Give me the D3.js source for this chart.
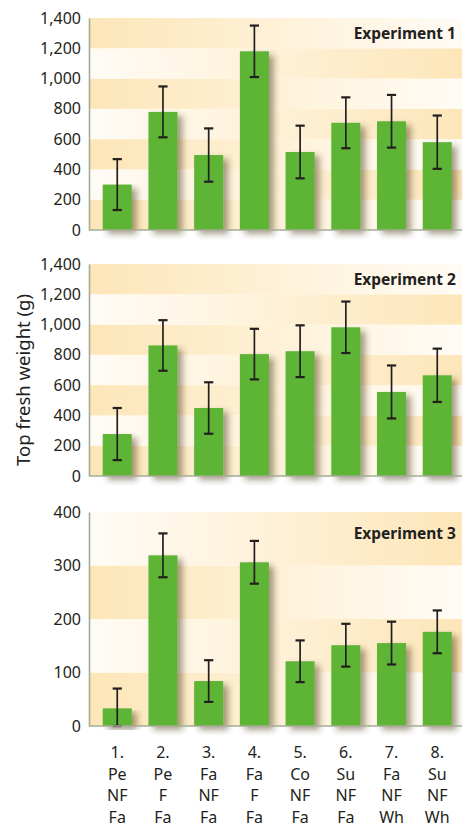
<!DOCTYPE html>
<html>
<head>
<meta charset="utf-8">
<script src="https://cdn.jsdelivr.net/npm/d3@7"></script>
<style>
    body { margin: 0; background: #fff; }
    svg { display: block; font-family: "Noto Sans", "Open Sans", sans-serif; }
</style>
</head>
<body>
<svg id="chart" width="466" height="827"></svg>
<script>
// values
const groupNumbers = ["1.", "2.", "3.", "4.", "5.", "6.", "7.", "8."];
const previousCrop = ["Pe", "Pe", "Fa", "Fa", "Co", "Su", "Fa", "Su"];
const fertilizer = ["NF", "F", "NF", "F", "NF", "NF", "NF", "NF"];
const currentCrop = ["Fa", "Fa", "Fa", "Fa", "Fa", "Fa", "Wh", "Wh"];

const exp1Means = [300, 780, 495, 1180, 515, 708, 718, 580];
const exp1Errors = [168, 168, 176, 170, 174, 168, 174, 176];
const exp2Means = [277, 862, 449, 805, 824, 982, 555, 665];
const exp2Errors = [172, 167, 170, 167, 171, 170, 175, 176];
const exp3Means = [33, 319, 84, 306, 121, 151, 155, 176];
const exp3Errors = [37, 41, 39, 40, 39, 40, 40, 40];

const ticksLarge = [0, 200, 400, 600, 800, 1000, 1200, 1400];
const ticksSmall = [0, 100, 200, 300, 400];

const experimentNames = ["Experiment 1", "Experiment 2", "Experiment 3"];
const yTitle = "Top fresh weight (g)";

const GREEN = "#5db436";
const INK = "#231f20";
const AXIS = "#a4ad94";
const BAND = "#fde6b8";
const PALE = "#fffcf6";

const svg = d3.select("#chart");
const left = 89, right = 462;

const x = d3.scaleBand()
    .domain(groupNumbers)
    .range([94.5, 460])
    .paddingInner(0.365)
    .paddingOuter(0.18);

function defs(){
    /*
    Gradients for the alternating bands and a soft shadow for the bars.
    */
    let d = svg.append("defs");
    [["bandA", BAND, PALE], ["bandB", PALE, BAND]].forEach(g => {
        let lg = d.append("linearGradient").attr("id", g[0])
            .attr("x1", 0).attr("x2", 1).attr("y1", 0).attr("y2", 0);
        lg.append("stop").attr("offset", 0).attr("stop-color", g[1]);
        lg.append("stop").attr("offset", 1).attr("stop-color", g[2]);
    });

    let f = d.append("filter").attr("id", "shadow")
        .attr("x", "-20%").attr("y", "-10%").attr("width", "160%").attr("height", "130%");
    f.append("feGaussianBlur").attr("in", "SourceAlpha").attr("stdDeviation", 3).attr("result", "blur");
    f.append("feOffset").attr("in", "blur").attr("dx", 5).attr("dy", 4).attr("result", "off");
    f.append("feFlood").attr("flood-color", "#3a2a10").attr("flood-opacity", 0.45).attr("result", "col");
    f.append("feComposite").attr("in", "col").attr("in2", "off").attr("operator", "in").attr("result", "sh");
    let m = f.append("feMerge");
    m.append("feMergeNode").attr("in", "sh");
    m.append("feMergeNode").attr("in", "SourceGraphic");
}

class Panel{
    constructor(name, means, errors, ticks, top, bottom, labelY){
        this.name = name;
        this.means = means;
        this.errors = errors;
        this.ticks = ticks;
        this.top = top;
        this.bottom = bottom;
        this.labelY = labelY;
        this.y = d3.scaleLinear()
            .domain([0, d3.max(ticks)])
            .range([bottom, top]);
    }

    bands(g){
        let pairs = d3.pairs(this.ticks);
        g.selectAll("rect.band").data(pairs).join("rect")
            .attr("class", "band")
            .attr("x", left)
            .attr("width", right - left)
            .attr("y", d => this.y(d[1]))
            .attr("height", d => this.y(d[0]) - this.y(d[1]))
            .attr("fill", (d, i) => i % 2 == 0 ? "url(#bandA)" : "url(#bandB)");
    }

    bars(g){
        let rows = this.means.map((m, i) => ({key: groupNumbers[i], mean: m, err: this.errors[i]}));
        g.selectAll("rect.bar").data(rows).join("rect")
            .attr("class", "bar")
            .attr("x", d => x(d.key))
            .attr("width", x.bandwidth())
            .attr("y", d => this.y(d.mean))
            .attr("height", d => this.bottom - this.y(d.mean))
            .attr("fill", GREEN)
            .attr("filter", "url(#shadow)");

        let cap = 4.6;
        let eb = g.selectAll("g.err").data(rows).join("g")
            .attr("class", "err")
            .attr("transform", d => `translate(${x(d.key) + x.bandwidth() / 2},0)`)
            .attr("stroke", INK)
            .attr("stroke-width", 1.7);
        eb.append("line")
            .attr("y1", d => this.y(d.mean + d.err))
            .attr("y2", d => this.y(Math.max(0, d.mean - d.err)));
        eb.append("line")
            .attr("x1", -cap).attr("x2", cap)
            .attr("y1", d => this.y(d.mean + d.err))
            .attr("y2", d => this.y(d.mean + d.err))
            .attr("stroke-width", 2.2);
        eb.append("line")
            .attr("x1", -cap).attr("x2", cap)
            .attr("y1", d => this.y(Math.max(0, d.mean - d.err)))
            .attr("y2", d => this.y(Math.max(0, d.mean - d.err)))
            .attr("stroke-width", 2.2);
    }

    axes(g){
        let ax = g.append("g")
            .attr("transform", `translate(${left},0)`)
            .call(d3.axisLeft(this.y)
                .tickValues(this.ticks)
                .tickSize(0)
                .tickPadding(8)
                .tickFormat(d3.format(",")));
        ax.select(".domain").attr("stroke", AXIS).attr("stroke-width", 1.6);
        ax.selectAll("text")
            .attr("fill", INK)
            .attr("font-size", 16)
            .attr("font-family", "'Noto Sans', sans-serif");

        g.append("line")
            .attr("x1", left).attr("x2", right)
            .attr("y1", this.bottom).attr("y2", this.bottom)
            .attr("stroke", AXIS)
            .attr("stroke-width", 1.6);

        g.append("text")
            .text(this.name)
            .attr("x", 456)
            .attr("y", this.labelY)
            .attr("text-anchor", "end")
            .attr("font-weight", "bold")
            .attr("font-size", 15.5)
            .attr("fill", INK);
    }

    make(){
        let g = svg.append("g");
        this.bands(g);
        this.bars(g);
        this.axes(g);
    }
}

defs();

new Panel(experimentNames[0], exp1Means, exp1Errors, ticksLarge, 18, 230, 39).make();
new Panel(experimentNames[1], exp2Means, exp2Errors, ticksLarge, 264, 476, 285).make();
new Panel(experimentNames[2], exp3Means, exp3Errors, ticksSmall, 512, 726, 539).make();

// treatment labels under the last panel
const labelRows = [groupNumbers, previousCrop, fertilizer, currentCrop];
const lab = svg.append("g").attr("fill", INK).attr("font-size", 16).attr("text-anchor", "middle");
labelRows.forEach((row, r) => {
    lab.selectAll(null).data(row).join("text")
        .attr("x", (d, i) => x(groupNumbers[i]) + x.bandwidth() / 2)
        .attr("y", 758 + r * 21.7)
        .text(d => d);
});

svg.append("text")
    .text(yTitle)
    .attr("transform", "translate(30,380) rotate(-90)")
    .attr("text-anchor", "middle")
    .attr("font-size", 18.5)
    .attr("fill", INK);
</script>
</body>
</html>
